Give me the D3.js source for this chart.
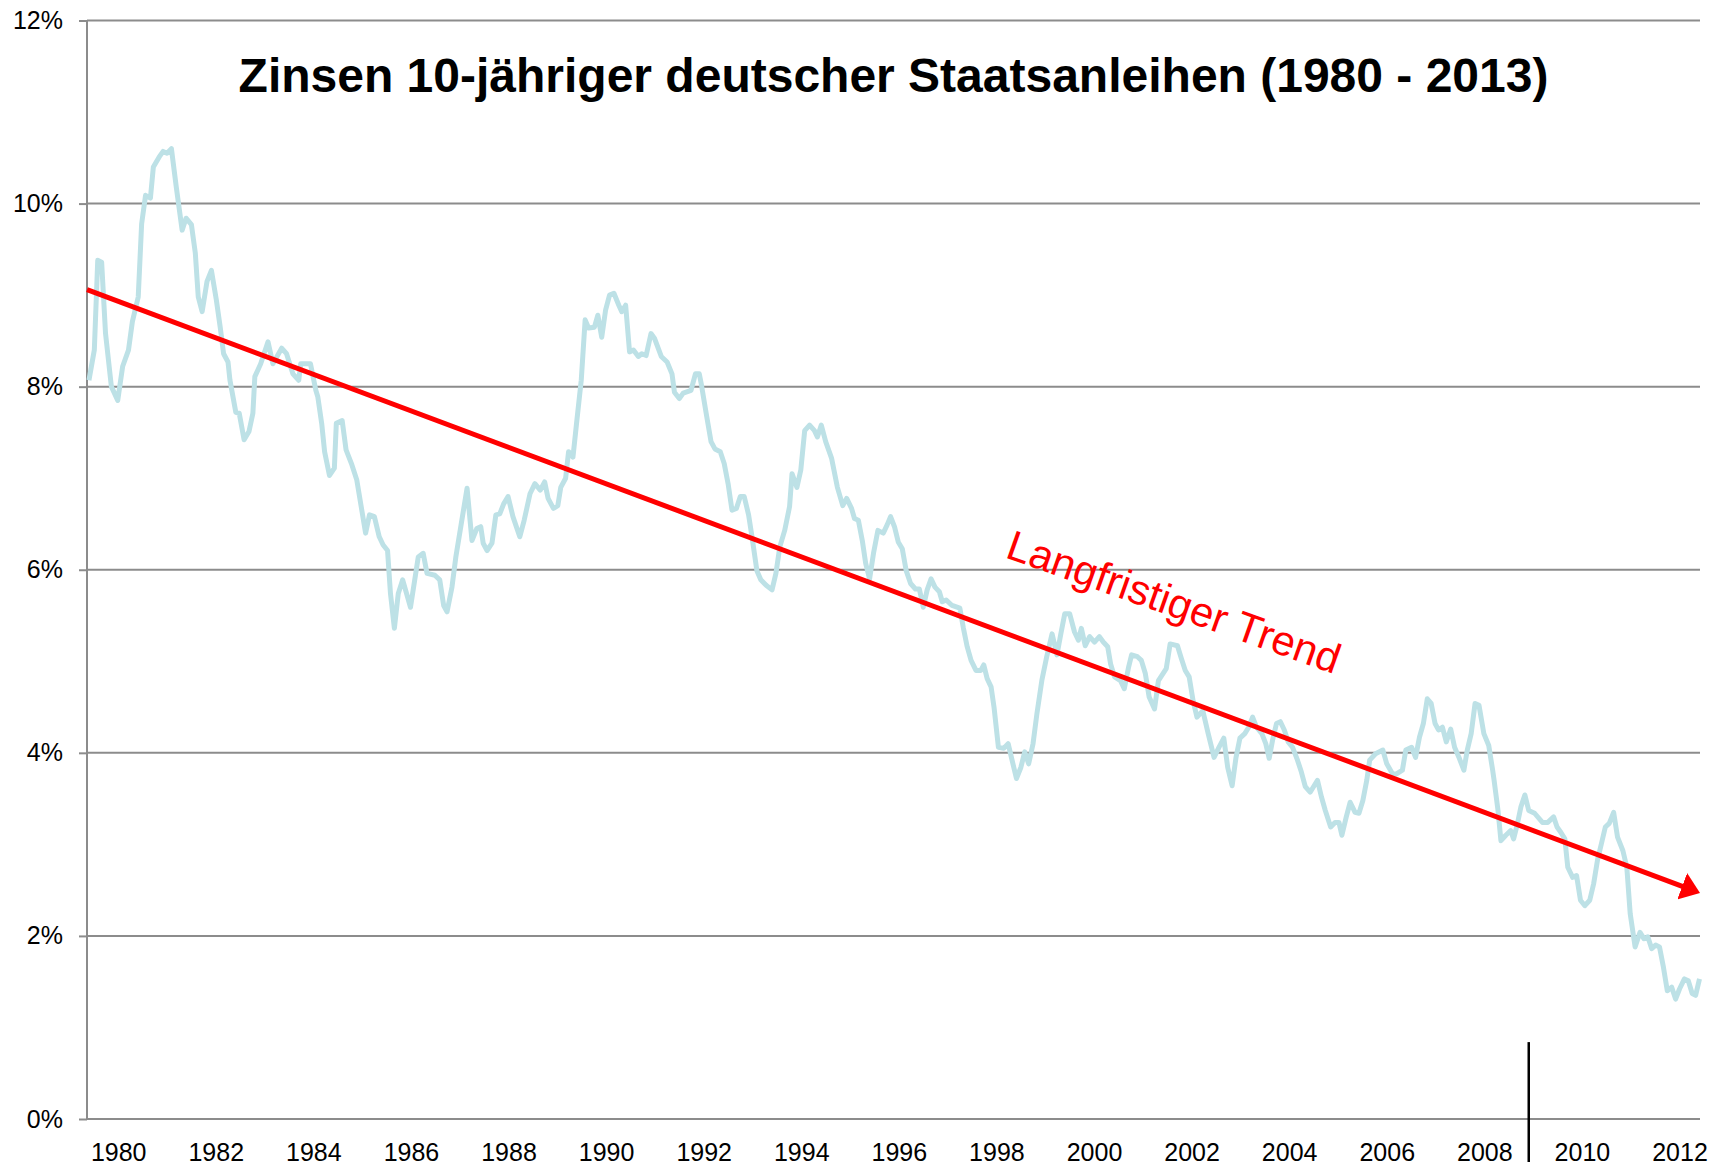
<!DOCTYPE html>
<html>
<head>
<meta charset="utf-8">
<script src="https://cdn.jsdelivr.net/npm/d3@7"></script>
<style>
  body { margin: 0; background: #fff; }
  text { font-family: "Liberation Sans", Arial, sans-serif; }
</style>
</head>
<body>
<script>
// Rendite 10-jähriger Bundesanleihen (Jahr als Dezimalzahl, Wert in %)
const years = [
  1980.04, 1980.15, 1980.22, 1980.30, 1980.38, 1980.50, 1980.63, 1980.73, 1980.85, 1980.93,
  1981.05, 1981.12, 1981.20, 1981.30, 1981.36, 1981.48, 1981.56, 1981.64, 1981.73, 1981.83, 1981.95,
  1982.03, 1982.14, 1982.22, 1982.28, 1982.36, 1982.46, 1982.55, 1982.65, 1982.73, 1982.80, 1982.89, 1982.93,
  1983.05, 1983.12, 1983.22, 1983.32, 1983.40, 1983.44, 1983.56, 1983.71, 1983.81, 1983.99,
  1984.09, 1984.22, 1984.34, 1984.38, 1984.58, 1984.69, 1984.73, 1984.81, 1984.87, 1984.97,
  1985.07, 1985.11, 1985.23, 1985.31, 1985.42, 1985.53, 1985.62, 1985.71, 1985.79, 1985.89, 1985.99,
  1986.07, 1986.16, 1986.22, 1986.30, 1986.38, 1986.47, 1986.63, 1986.79, 1986.89, 1986.97,
  1987.13, 1987.23, 1987.31, 1987.38, 1987.48, 1987.56, 1987.67, 1987.79, 1987.89, 1987.99,
  1988.07, 1988.12, 1988.20, 1988.30, 1988.38, 1988.46, 1988.54, 1988.63, 1988.73, 1988.87, 1988.96,
  1989.08, 1989.18, 1989.29, 1989.38, 1989.45, 1989.56, 1989.65, 1989.71, 1989.81, 1989.87, 1989.96,
  1990.03, 1990.13, 1990.21, 1990.28, 1990.40, 1990.47, 1990.55, 1990.63, 1990.71, 1990.80, 1990.90, 1990.96,
  1991.04, 1991.12, 1991.20, 1991.30, 1991.37, 1991.46, 1991.56, 1991.63, 1991.77, 1991.89, 1991.99,
  1992.04, 1992.14, 1992.22, 1992.38, 1992.47, 1992.55, 1992.59, 1992.69, 1992.79, 1992.87, 1992.98,
  1993.06, 1993.14, 1993.22, 1993.31, 1993.39, 1993.47, 1993.56, 1993.63, 1993.73, 1993.81, 1993.92,
  1994.04, 1994.12, 1994.20, 1994.30, 1994.40, 1994.45, 1994.55, 1994.63, 1994.71, 1994.81, 1994.91, 1994.97,
  1995.05, 1995.14, 1995.26, 1995.38, 1995.49, 1995.57, 1995.67, 1995.73, 1995.81, 1995.89, 1995.96,
  1996.04, 1996.12, 1996.21, 1996.32, 1996.40, 1996.47, 1996.55, 1996.63, 1996.71, 1996.79, 1996.88, 1996.98,
  1997.06, 1997.14, 1997.22, 1997.30, 1997.38, 1997.47, 1997.53, 1997.61, 1997.73, 1997.89, 1997.96,
  1998.04, 1998.12, 1998.22, 1998.32, 1998.38, 1998.45, 1998.53, 1998.59, 1998.68, 1998.79, 1998.88, 1998.96,
  1999.05, 1999.14, 1999.22, 1999.30, 1999.39, 1999.47, 1999.57, 1999.67, 1999.78, 1999.88, 1999.96,
  2000.04, 2000.14, 2000.24, 2000.32, 2000.38, 2000.46, 2000.55, 2000.65, 2000.75, 2000.83, 2000.92, 2000.98,
  2001.06, 2001.18, 2001.26, 2001.35, 2001.41, 2001.53, 2001.61, 2001.69, 2001.77, 2001.88, 2001.96,
  2002.12, 2002.20, 2002.35, 2002.43, 2002.51, 2002.59, 2002.67, 2002.75, 2002.87, 2002.98,
  2003.10, 2003.20, 2003.30, 2003.38, 2003.47, 2003.55, 2003.63, 2003.73, 2003.81, 2003.89, 2003.97,
  2004.08, 2004.16, 2004.23, 2004.30, 2004.38, 2004.46, 2004.54, 2004.62, 2004.71, 2004.81, 2004.89, 2004.97,
  2005.07, 2005.22, 2005.30, 2005.38, 2005.49, 2005.58, 2005.66, 2005.72, 2005.81, 2005.89, 2005.99,
  2006.07, 2006.15, 2006.23, 2006.29, 2006.41, 2006.56, 2006.64, 2006.76, 2006.84, 2006.96,
  2007.03, 2007.15, 2007.23, 2007.31, 2007.39, 2007.47, 2007.55, 2007.63, 2007.70, 2007.78, 2007.86, 2007.95,
  2008.03, 2008.12, 2008.22, 2008.29, 2008.37, 2008.45, 2008.53, 2008.63, 2008.73, 2008.81, 2008.84, 2008.92, 2008.98,
  2009.08, 2009.18, 2009.24, 2009.32, 2009.39, 2009.47, 2009.55, 2009.67, 2009.83, 2009.94,
  2010.06, 2010.13, 2010.21, 2010.29, 2010.35, 2010.45, 2010.53, 2010.61, 2010.70, 2010.80, 2010.88, 2010.96,
  2011.04, 2011.12, 2011.20, 2011.29, 2011.37, 2011.48, 2011.56, 2011.63, 2011.73, 2011.83, 2011.91, 2011.99,
  2012.07, 2012.15, 2012.23, 2012.31, 2012.39, 2012.48, 2012.56, 2012.64, 2012.74, 2012.82, 2012.90, 2012.97,
  2013.05
];
const yields = [
  8.07, 8.40, 9.38, 9.36, 8.58, 8.00, 7.85, 8.22, 8.40, 8.71,
  8.98, 9.78, 10.09, 10.06, 10.40, 10.51, 10.57, 10.55, 10.60, 10.18, 9.71,
  9.84, 9.77, 9.46, 8.98, 8.82, 9.15, 9.27, 8.95, 8.65, 8.36, 8.27, 8.07,
  7.72, 7.71, 7.42, 7.51, 7.71, 8.11, 8.25, 8.49, 8.25, 8.42,
  8.36, 8.14, 8.07, 8.25, 8.25, 7.96, 7.89, 7.60, 7.29, 7.03,
  7.11, 7.60, 7.63, 7.31, 7.16, 6.98, 6.69, 6.40, 6.60, 6.58, 6.36,
  6.27, 6.21, 5.74, 5.36, 5.74, 5.89, 5.59, 6.14, 6.18, 5.96,
  5.94, 5.89, 5.61, 5.54, 5.81, 6.14, 6.50, 6.89, 6.32, 6.45,
  6.47, 6.29, 6.21, 6.29, 6.60, 6.61, 6.72, 6.80, 6.58, 6.36, 6.54,
  6.83, 6.94, 6.87, 6.96, 6.78, 6.67, 6.70, 6.90, 7.00, 7.29, 7.23,
  7.58, 8.07, 8.73, 8.64, 8.65, 8.78, 8.54, 8.84, 9.00, 9.02, 8.89, 8.82,
  8.89, 8.38, 8.40, 8.33, 8.36, 8.34, 8.58, 8.53, 8.33, 8.27, 8.14,
  7.94, 7.87, 7.93, 7.96, 8.14, 8.14, 8.03, 7.71, 7.40, 7.32, 7.29,
  7.16, 6.94, 6.65, 6.67, 6.80, 6.80, 6.60, 6.36, 5.99, 5.89, 5.83,
  5.78, 5.96, 6.25, 6.43, 6.69, 7.05, 6.90, 7.09, 7.52, 7.58, 7.52, 7.45,
  7.58, 7.40, 7.22, 6.90, 6.70, 6.78, 6.67, 6.56, 6.54, 6.32, 6.07,
  5.90, 6.18, 6.43, 6.40, 6.49, 6.58, 6.47, 6.30, 6.23, 5.99, 5.85, 5.79,
  5.79, 5.59, 5.78, 5.90, 5.81, 5.76, 5.65, 5.67, 5.61, 5.58, 5.37,
  5.16, 5.01, 4.90, 4.90, 4.96, 4.81, 4.72, 4.50, 4.06, 4.05, 4.10, 3.92,
  3.72, 3.84, 4.01, 3.88, 4.10, 4.43, 4.79, 5.05, 5.30, 5.07, 5.30,
  5.52, 5.52, 5.32, 5.23, 5.36, 5.17, 5.27, 5.21, 5.27, 5.21, 5.16, 4.97,
  4.83, 4.79, 4.70, 4.94, 5.07, 5.05, 5.01, 4.87, 4.61, 4.48, 4.79,
  4.92, 5.19, 5.17, 5.03, 4.90, 4.83, 4.57, 4.39, 4.46, 4.21,
  3.95, 4.06, 4.16, 3.84, 3.64, 3.95, 4.16, 4.21, 4.28, 4.39, 4.28,
  4.21, 4.10, 3.94, 4.14, 4.32, 4.34, 4.25, 4.12, 4.06, 3.92, 3.79, 3.63,
  3.57, 3.70, 3.52, 3.37, 3.19, 3.24, 3.24, 3.10, 3.30, 3.46, 3.35,
  3.34, 3.48, 3.70, 3.92, 3.99, 4.03, 3.88, 3.77, 3.77, 3.81,
  4.03, 4.06, 3.95, 4.17, 4.32, 4.59, 4.54, 4.32, 4.25, 4.28, 4.12, 4.26,
  4.06, 3.95, 3.81, 4.03, 4.21, 4.54, 4.52, 4.21, 4.08, 3.81, 3.70, 3.37, 3.04,
  3.10, 3.15, 3.06, 3.23, 3.41, 3.54, 3.37, 3.34, 3.24, 3.24,
  3.30, 3.19, 3.13, 3.06, 2.75, 2.64, 2.66, 2.39, 2.33, 2.39, 2.57, 2.83,
  3.01, 3.19, 3.23, 3.35, 3.08, 2.93, 2.75, 2.24, 1.88, 2.04, 1.97, 1.99,
  1.86, 1.90, 1.88, 1.66, 1.40, 1.44, 1.31, 1.42, 1.53, 1.51, 1.37, 1.35,
  1.53
];

// Achsen
const yTicks = [0, 2, 4, 6, 8, 10, 12];
const xLabels = [1980, 1982, 1984, 1986, 1988, 1990, 1992, 1994, 1996, 1998,
                 2000, 2002, 2004, 2006, 2008, 2010, 2012];

// Trendpfeil (Anfang / Ende) und Markierung
const trendYears = [1980, 2013.06];
const trendValues = [9.06, 2.47];
const markerYear = 2009.55;

const width = 1722;
const height = 1168;

const x = d3.scaleLinear().domain([1980, 2013.06]).range([87, 1700]);
const y = d3.scaleLinear().domain([0, 12]).range([1119, 20.5]);

const svg = d3.select("body").append("svg")
  .attr("width", width)
  .attr("height", height)
  .style("background", "#fff");

// Gitterlinien
svg.append("g")
  .selectAll("line")
  .data(yTicks)
  .enter().append("line")
  .attr("x1", x.range()[0])
  .attr("x2", x.range()[1])
  .attr("y1", d => y(d))
  .attr("y2", d => y(d))
  .style("stroke", "#8c8c8c")
  .style("stroke-width", 2);

// y-Achse
const yAxis = svg.append("g")
  .attr("transform", `translate(${x.range()[0]},0)`)
  .call(d3.axisLeft(y).tickValues(yTicks).tickFormat(d => d + "%").tickSize(8).tickPadding(16));
yAxis.selectAll("path, line").style("stroke", "#8c8c8c").style("stroke-width", 2);
yAxis.select(".domain").attr("d", `M0,${y(12)}V${y(0)}`);
yAxis.selectAll("text")
  .style("font-size", "25px")
  .style("fill", "#000")
  .style("font-family", "'Liberation Sans', Arial, sans-serif");

// x-Beschriftung
svg.append("g")
  .selectAll("text")
  .data(xLabels)
  .enter().append("text")
  .attr("x", d => x(d + 0.65))
  .attr("y", y(0) + 42)
  .attr("text-anchor", "middle")
  .style("font-size", "25px")
  .style("fill", "#000")
  .text(d => d);

// Zinskurve
const series = years.map((t, i) => ({ t: t, v: yields[i] }));
const line = d3.line()
  .x(d => x(d.t))
  .y(d => y(d.v));

svg.append("path")
  .datum(series)
  .attr("d", line)
  .style("fill", "none")
  .style("stroke", "#bde1e6")
  .style("stroke-width", 5)
  .style("stroke-linejoin", "round");

// senkrechte Markierung
svg.append("line")
  .attr("x1", x(markerYear))
  .attr("x2", x(markerYear))
  .attr("y1", y(0.84))
  .attr("y2", y(0) + 43)
  .style("stroke", "#000")
  .style("stroke-width", 2.5);

// Trendpfeil
svg.append("defs").append("marker")
  .attr("id", "arrow")
  .attr("markerUnits", "userSpaceOnUse")
  .attr("viewBox", "0 0 19 28")
  .attr("markerWidth", 19)
  .attr("markerHeight", 28)
  .attr("refX", 3)
  .attr("refY", 14)
  .attr("orient", "auto")
  .append("path")
  .attr("d", "M0,0 L19,14 L0,28 Z")
  .style("fill", "#ff0000");

const x0 = x(trendYears[0]), y0 = y(trendValues[0]);
const x1 = x(trendYears[1]), y1 = y(trendValues[1]);
const len = Math.hypot(x1 - x0, y1 - y0);
const back = 16;
svg.append("line")
  .attr("x1", x0)
  .attr("y1", y0)
  .attr("x2", x1 - (x1 - x0) / len * back)
  .attr("y2", y1 - (y1 - y0) / len * back)
  .attr("marker-end", "url(#arrow)")
  .style("stroke", "#ff0000")
  .style("stroke-width", 5);

// Beschriftung Trend
svg.append("text")
  .attr("transform", `translate(${x(2002.18)},${y(5.5)}) rotate(19.5)`)
  .attr("text-anchor", "middle")
  .style("font-size", "42px")
  .style("fill", "#ff0000")
  .text("Langfristiger Trend");

// Titel
svg.append("text")
  .attr("x", (x.range()[0] + x.range()[1]) / 2)
  .attr("y", 92)
  .attr("text-anchor", "middle")
  .style("font-size", "48px")
  .style("font-weight", "bold")
  .style("fill", "#000")
  .text("Zinsen 10-jähriger deutscher Staatsanleihen (1980 - 2013)");
</script>
</body>
</html>
